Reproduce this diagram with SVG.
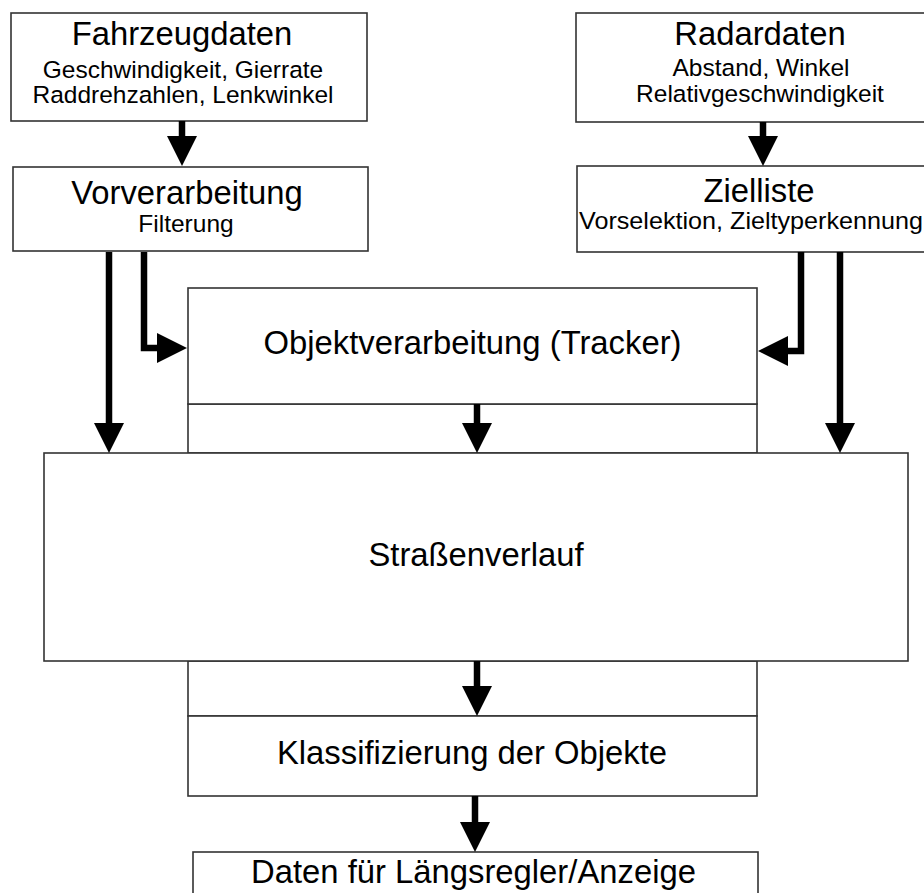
<svg xmlns="http://www.w3.org/2000/svg" width="924" height="893" viewBox="0 0 924 893">
  <style>
    .box { fill: #ffffff; stroke: #333333; stroke-width: 1.6; }
    .frame { fill: none; stroke: #333333; stroke-width: 1.6; }
    .big { font-family: "Liberation Sans", Arial, sans-serif; font-size: 32.8px; fill: #000000; text-anchor: middle; }
    .small { font-family: "Liberation Sans", Arial, sans-serif; font-size: 24.5px; fill: #000000; text-anchor: middle; }
    .flow { fill: none; stroke: #000000; stroke-width: 6.5; stroke-linejoin: miter; stroke-linecap: butt; marker-end: url(#head); }
  </style>
  <defs>
    <marker id="head" viewBox="0 -15 30 30" markerWidth="30" markerHeight="30" refX="1" refY="0" orient="auto" markerUnits="userSpaceOnUse">
      <path d="M0,-15 L30,0 L0,15 Z" fill="#000000"/>
    </marker>
  </defs>
  <rect width="924" height="893" fill="#ffffff"/>

  <!-- column frame between Objektverarbeitung and Klassifizierung -->
  <g id="frame">
    <rect class="frame" x="188" y="404" width="569" height="49"/>
    <rect class="frame" x="188" y="661" width="569" height="55"/>
  </g>

  <g id="fahrzeugdaten">
    <rect class="box" x="11" y="13" width="356" height="108"/>
    <text class="big" x="182" y="45">Fahrzeugdaten</text>
    <text class="small" x="183" y="78">Geschwindigkeit, Gierrate</text>
    <text class="small" x="183" y="103">Raddrehzahlen, Lenkwinkel</text>
  </g>

  <g id="vorverarbeitung">
    <rect class="box" x="13" y="167" width="355" height="84"/>
    <text class="big" x="187" y="204">Vorverarbeitung</text>
    <text class="small" x="186" y="232">Filterung</text>
  </g>

  <g id="radardaten">
    <rect class="box" x="576" y="13" width="370" height="109"/>
    <text class="big" x="760" y="45">Radardaten</text>
    <text class="small" x="761" y="76">Abstand, Winkel</text>
    <text class="small" x="760" y="102">Relativgeschwindigkeit</text>
  </g>

  <g id="zielliste">
    <rect class="box" x="577" y="166" width="370" height="86"/>
    <text class="big" x="759" y="202">Zielliste</text>
    <text class="small" x="579" y="229" textLength="344" lengthAdjust="spacingAndGlyphs" style="text-anchor:start">Vorselektion, Zieltyperkennung</text>
  </g>

  <g id="objektverarbeitung">
    <rect class="box" x="188" y="288" width="569" height="116"/>
    <text class="big" x="472.5" y="354">Objektverarbeitung (Tracker)</text>
  </g>

  <g id="strassenverlauf">
    <rect class="box" x="44" y="453" width="864" height="208"/>
    <text class="big" x="476" y="566">Straßenverlauf</text>
  </g>

  <g id="klassifizierung">
    <rect class="box" x="188" y="716" width="569" height="80"/>
    <text class="big" x="472" y="764">Klassifizierung der Objekte</text>
  </g>

  <g id="ausgabe">
    <rect class="box" x="193" y="852" width="565" height="60"/>
    <text class="big" x="473.5" y="883">Daten für Längsregler/Anzeige</text>
  </g>

  <g id="connectors">
    <path class="flow" d="M182,121 V137"/>
    <path class="flow" d="M763,122 V137"/>
    <path class="flow" d="M109,252 V424"/>
    <path class="flow" d="M144,252 V348 H158"/>
    <path class="flow" d="M801,252 V351 H787"/>
    <path class="flow" d="M840,252 V424"/>
    <path class="flow" d="M477,404 V424"/>
    <path class="flow" d="M477,661 V687"/>
    <path class="flow" d="M475,796 V823"/>
  </g>
</svg>
